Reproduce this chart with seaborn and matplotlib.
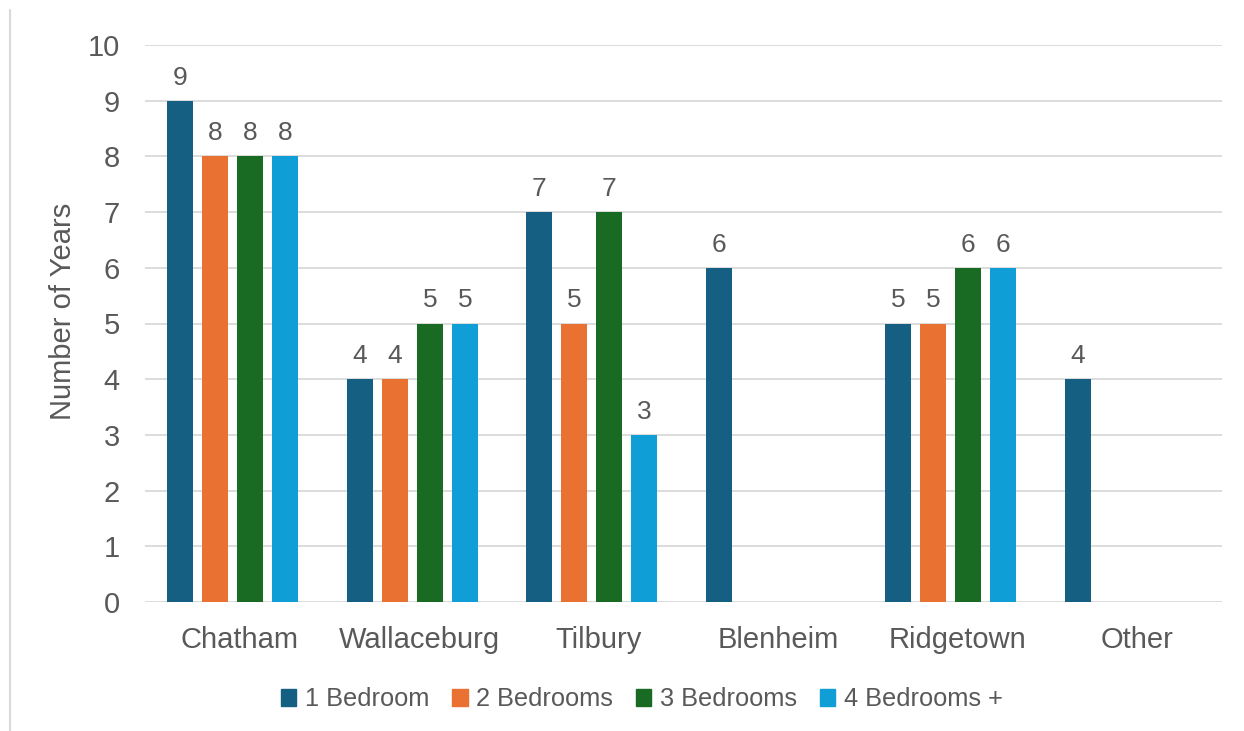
import numpy as np
import pandas as pd
import matplotlib
matplotlib.use("Agg")
import matplotlib.pyplot as plt
import matplotlib.transforms as mtransforms
import seaborn as sns
from matplotlib.lines import Line2D

categories = ["Chatham", "Wallaceburg", "Tilbury", "Blenheim", "Ridgetown", "Other"]
series_names = ["1 Bedroom", "2 Bedrooms", "3 Bedrooms", "4 Bedrooms +"]
one_bed = [9, 4, 7, 6, 5, 4]
two_bed = [8, 4, 5, np.nan, 5, np.nan]
three_bed = [8, 5, 7, np.nan, 6, np.nan]
four_bed = [8, 5, 3, np.nan, 6, np.nan]
colors = ["#156082", "#E97132", "#196B24", "#0F9ED5"]
y_ticks = list(range(0, 11))

rows = []
for name, vals in zip(series_names, [one_bed, two_bed, three_bed, four_bed]):
    for c, v in zip(categories, vals):
        rows.append({"Community": c, "Type": name, "Years": v})
df = pd.DataFrame(rows)

sns.set_theme(style="white")
plt.rcParams["font.family"] = ["Liberation Sans", "DejaVu Sans"]
text_color = "#595959"

fig = plt.figure(figsize=(12.44, 7.31), dpi=100)
ax = fig.add_axes([145/1244, 1-602/731, (1222-145)/1244, (602-45)/731])

sns.barplot(data=df.dropna(), x="Community", y="Years", hue="Type",
            order=categories, hue_order=series_names, palette=colors,
            width=0.78, gap=0.26, saturation=1, ax=ax, errorbar=None,
            linewidth=0)

ax.set_ylim(0, 10)
ax.set_xlim(-0.489, len(categories) - 0.489)
ax.set_yticks(y_ticks)
ax.yaxis.grid(True, color="#D9D9D9", linewidth=1.3)
ax.set_axisbelow(True)
for s in ax.spines.values():
    s.set_visible(False)
ax.tick_params(axis="y", length=0, pad=18, labelsize=21, labelcolor=text_color)
ax.tick_params(axis="x", length=0, pad=17, labelsize=21, labelcolor=text_color)
shift = mtransforms.ScaledTranslation(7/100, 0, fig.dpi_scale_trans)
for lbl in ax.get_xticklabels():
    lbl.set_transform(lbl.get_transform() + shift)
ax.set_xlabel("")
ax.set_ylabel("Number of Years", fontsize=21, color=text_color)
ax.yaxis.set_label_coords(-0.063, (602 - 311) / 557)

for cont in ax.containers:
    for bar in cont:
        h = bar.get_height()
        if np.isnan(h) or h == 0:
            continue
        ax.text(bar.get_x() + bar.get_width() / 2, h + 0.2, f"{h:g}",
                ha="center", va="bottom", fontsize=19, color=text_color)

handles = [plt.Rectangle((0, 0), 1, 1, color=c) for c in colors]
leg = ax.legend(handles, series_names, loc="center", bbox_to_anchor=(0.4615, -0.175),
                ncol=4, frameon=False, fontsize=18.3, handlelength=0.6, handleheight=0.6,
                handletextpad=0.35, columnspacing=0.9, labelcolor=text_color)

fig.add_artist(Line2D([10/1244, 10/1244], [0, 1-10/731], color="#D9D9D9", linewidth=1.5))

fig.savefig("out.png", dpi=100, facecolor="white")
